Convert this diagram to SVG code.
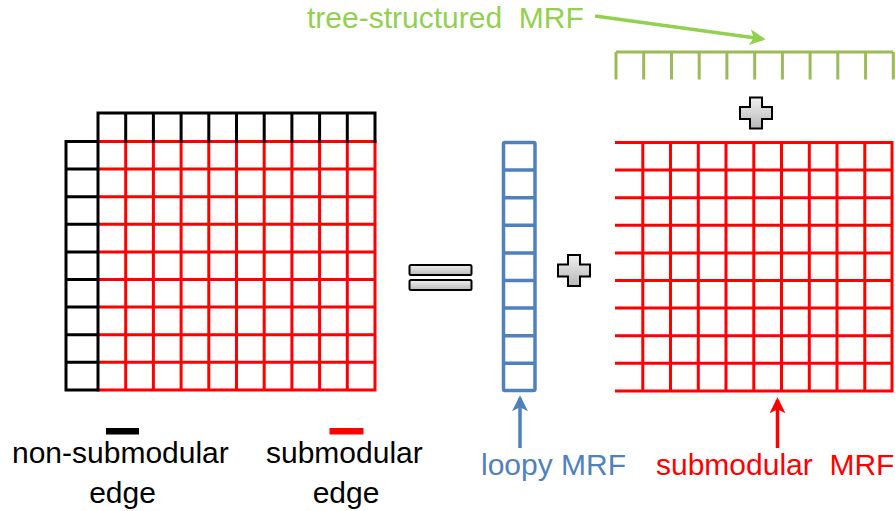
<svg xmlns="http://www.w3.org/2000/svg" width="895" height="511" viewBox="0 0 895 511">
<defs>
<style>
.red{stroke:#FF0000;stroke-width:3;fill:none;stroke-linecap:square}
.blk{stroke:#000;stroke-width:3;fill:none;stroke-linecap:square}
.blue{stroke:#4F81BD;stroke-width:3.5;fill:none}
.grn{stroke:#9BBB59;stroke-width:3;fill:none}
.sym{fill:url(#gray);stroke:#000;stroke-width:2}
text{font-family:"Liberation Sans",Arial,sans-serif;font-size:30px;white-space:pre}
</style>
<linearGradient id="gray" x1="0" y1="0" x2="0" y2="1">
<stop offset="0" stop-color="#F0F0F0"/>
<stop offset="1" stop-color="#B8B8B8"/>
</linearGradient>
<marker id="ahG" viewBox="0 0 12 12" refX="10" refY="6" markerWidth="16" markerHeight="16" markerUnits="userSpaceOnUse" orient="auto"><path d="M0,0 L12,6 L0,12 L3,6 z" fill="#92D050"/></marker>
<marker id="ahB" viewBox="0 0 12 12" refX="10" refY="6" markerWidth="16" markerHeight="16" markerUnits="userSpaceOnUse" orient="auto"><path d="M0,0 L12,6 L0,12 L3,6 z" fill="#4F81BD"/></marker>
<marker id="ahR" viewBox="0 0 12 12" refX="10" refY="6" markerWidth="16" markerHeight="16" markerUnits="userSpaceOnUse" orient="auto"><path d="M0,0 L12,6 L0,12 L3,6 z" fill="#FF0000"/></marker>
</defs>
<rect width="895" height="511" fill="#fff"/>

<g id="full-grid">
<path class="red" d="M98,141.5H375M98,169.1H375M98,196.7H375M98,224.3H375M98,251.9H375M98,279.5H375M98,307.1H375M98,334.7H375M98,362.3H375M98,389.9H375
M125.7,141.5V389.9M153.4,141.5V389.9M181.1,141.5V389.9M208.8,141.5V389.9M236.5,141.5V389.9M264.2,141.5V389.9M291.9,141.5V389.9M319.6,141.5V389.9M347.3,141.5V389.9M375,141.5V389.9"/>
<path class="blk" d="M98,113H375M98,113V141.5M125.7,113V141.5M153.4,113V141.5M181.1,113V141.5M208.8,113V141.5M236.5,113V141.5M264.2,113V141.5M291.9,113V141.5M319.6,113V141.5M347.3,113V141.5M375,113V141.5
M66,141.5V389.9M98,141.5V389.9M66,141.5H98M66,169.1H98M66,196.7H98M66,224.3H98M66,251.9H98M66,279.5H98M66,307.1H98M66,334.7H98M66,362.3H98M66,389.9H98"/>
</g>

<g id="equals">
<rect class="sym" x="409.5" y="265" width="62" height="10" rx="1.5"/>
<rect class="sym" x="409.5" y="280" width="62" height="10" rx="1.5"/>
</g>

<g id="loopy-mrf">
<rect class="blue" x="503.5" y="142.5" width="31.5" height="248" rx="1.5"/>
<path class="blue" d="M503.5,170.1H535M503.5,197.7H535M503.5,225.3H535M503.5,252.9H535M503.5,280.5H535M503.5,308.1H535M503.5,335.7H535M503.5,363.3H535"/>
</g>

<g id="plus-mid">
<path class="sym" d="M568,255H580V264.5H590V276.5H580V286H568V276.5H558V264.5H568Z"/>
</g>

<g id="plus-top">
<path class="sym" d="M750,97.5H762V107H772V119H762V128.5H750V119H740V107H750Z"/>
</g>

<g id="tree-mrf">
<path class="grn" d="M616,52H893.3M616,52V79.5M643.7,52V79.5M671.5,52V79.5M699.2,52V79.5M726.9,52V79.5M754.7,52V79.5M782.4,52V79.5M810.1,52V79.5M837.8,52V79.5M865.6,52V79.5M893.3,52V79.5"/>
</g>

<g id="submodular-mrf">
<path class="red" style="stroke-linecap:butt" d="M615,142.5H893.5M615,170.1H893.5M615,197.7H893.5M615,225.3H893.5M615,252.9H893.5M615,280.5H893.5M615,308.1H893.5M615,335.7H893.5M615,363.3H893.5M615,390.9H893.5
M642.8,141V392.4M670.5,141V392.4M698.3,141V392.4M726,141V392.4M753.8,141V392.4M781.5,141V392.4M809.3,141V392.4M837,141V392.4M864.8,141V392.4M892,141V392.4"/>
</g>

<g id="legend-nonsub">
<rect x="106" y="428" width="33" height="6.5" fill="#000"/>
<text x="12" y="463">non-submodular</text>
<text x="122.5" y="503" text-anchor="middle">edge</text>
</g>

<g id="legend-sub">
<rect x="329.5" y="428" width="34" height="6.5" fill="#FF0000"/>
<text x="266" y="463">submodular</text>
<text x="346" y="503" text-anchor="middle">edge</text>
</g>

<g id="label-tree">
<text x="307" y="28" fill="#92D050">tree-structured  MRF</text>
</g>
<g id="label-loopy">
<text x="481" y="475" fill="#4F81BD">loopy MRF</text>
</g>
<g id="label-sub">
<text x="656" y="475" fill="#FF0000">submodular  MRF</text>
</g>

<g id="connectors">
<line x1="595" y1="16" x2="763" y2="39" stroke="#92D050" stroke-width="3.5" marker-end="url(#ahG)"/>
<line x1="520" y1="448" x2="520" y2="398" stroke="#4F81BD" stroke-width="3.5" marker-end="url(#ahB)"/>
<line x1="777.5" y1="448" x2="777.5" y2="400" stroke="#FF0000" stroke-width="3.5" marker-end="url(#ahR)"/>
</g>
</svg>
